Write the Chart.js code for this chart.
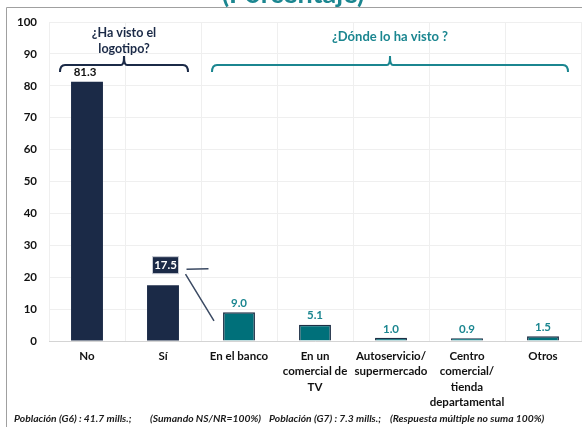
<!DOCTYPE html>
<html>
<head>
<meta charset="utf-8">
<script src="https://cdn.jsdelivr.net/npm/chart.js@4.4.1/dist/chart.umd.min.js"></script>
<style>
  html, body { margin: 0; padding: 0; background: #ffffff; }
  #wrap { position: relative; width: 582px; height: 427px; }
</style>
</head>
<body>
<div id="wrap"><canvas id="grafica" width="582" height="427"></canvas></div>
<script>
// datos de la gráfica
var categorias = [
    ['No'],
    ['Sí'],
    ['En el banco'],
    ['En un', 'comercial de', 'TV'],
    ['Autoservicio/', 'supermercado'],
    ['Centro', 'comercial/', 'tienda', 'departamental'],
    ['Otros']
];
var valores = [81.3, 17.5, 9.0, 5.1, 1.0, 0.9, 1.5];
var grupos = ['visto', 'visto', 'donde', 'donde', 'donde', 'donde', 'donde'];
var ticksY = [0, 10, 20, 30, 40, 50, 60, 70, 80, 90, 100];
var titulo = '(Porcentaje)';
var tituloGrupo1 = ['¿Ha visto el', 'logotipo?'];
var tituloGrupo2 = '¿Dónde lo ha visto ?';
var notas = [
    'Población (G6) : 41.7 mills.;',
    '(Sumando NS/NR=100%)',
    'Población (G7) : 7.3 mills.;',
    '(Respuesta múltiple no suma 100%)'
];

var AZUL = '#1b2a47';
var VERDE = '#00707a';
var VERDE_TEXTO = '#1b8690';
var FUENTE = 'Lato, "Open Sans", sans-serif';

// llave (corchete) sobre un grupo de barras
function dibujarLlave(ctx, x1, x2, xm, y, alto, color) {
    ctx.save();
    ctx.strokeStyle = color;
    ctx.lineWidth = 2;
    ctx.beginPath();
    ctx.moveTo(x1, y + alto);
    ctx.quadraticCurveTo(x1, y, x1 + 5, y);
    ctx.lineTo(xm - 3, y);
    ctx.quadraticCurveTo(xm, y, xm, y - 9);
    ctx.quadraticCurveTo(xm, y, xm + 3, y);
    ctx.lineTo(x2 - 5, y);
    ctx.quadraticCurveTo(x2, y, x2, y + alto);
    ctx.stroke();
    ctx.restore();
}

var pluginAnotaciones = {
    id: 'anotaciones',
    beforeDraw: function(chart) {
        var ctx = chart.ctx;
        ctx.save();
        // marco
        ctx.strokeStyle = '#a0a0a0';
        ctx.lineWidth = 1;
        ctx.beginPath();
        ctx.moveTo(6.5, 427);
        ctx.lineTo(6.5, 7.5);
        ctx.lineTo(582, 7.5);
        ctx.stroke();
        // título cortado arriba
        ctx.fillStyle = VERDE_TEXTO;
        ctx.font = 'bold 27px ' + FUENTE;
        ctx.textAlign = 'center';
        ctx.textBaseline = 'alphabetic';
        ctx.fillText(titulo, 293, 3);
        ctx.restore();
    },
    afterDatasetsDraw: function(chart) {
        var ctx = chart.ctx;
        var x = chart.scales.x;
        var y = chart.scales.y;
        ctx.save();

        // etiquetas de valores
        ctx.textAlign = 'center';
        ctx.textBaseline = 'middle';
        ctx.font = 'bold 11.5px ' + FUENTE;
        valores.forEach(function(v, i) {
            var cx = x.getPixelForValue(i);
            var top = y.getPixelForValue(v);
            var txt = v.toFixed(1);
            if (i === 0) {
                ctx.fillStyle = '#111111';
                ctx.fillText(txt, cx - 2, top - 9);
            } else if (i === 1) {
                var bx = cx + 2.5, by = top - 20;
                ctx.fillStyle = AZUL;
                ctx.fillRect(bx - 13, by - 8.5, 26, 17);
                ctx.strokeStyle = '#c8ccd4';
                ctx.lineWidth = 1;
                ctx.strokeRect(bx - 13, by - 8.5, 26, 17);
                ctx.fillStyle = '#ffffff';
                ctx.fillText(txt, bx, by + 0.5);
                // líneas del recuadro
                ctx.strokeStyle = '#3b4a63';
                ctx.lineWidth = 1.5;
                ctx.beginPath();
                ctx.moveTo(bx + 21, by + 4);
                ctx.lineTo(bx + 43, by + 3.5);
                ctx.moveTo(bx + 20, by + 9);
                ctx.lineTo(x.getPixelForValue(2) - 25, y.getPixelForValue(6.3));
                ctx.stroke();
            } else {
                ctx.fillStyle = VERDE_TEXTO;
                ctx.fillText(txt, cx, top - 9);
            }
        });

        // llaves y títulos de grupo
        var yLlave = y.getPixelForValue(86.5);
        var alto = 7;
        var i1 = grupos.indexOf('visto'), f1 = grupos.lastIndexOf('visto');
        var i2 = grupos.indexOf('donde'), f2 = grupos.lastIndexOf('donde');
        var a1 = x.getPixelForValue(i1) - 27, b1 = x.getPixelForValue(f1) + 25;
        var a2 = x.getPixelForValue(i2) - 27, b2 = x.getPixelForValue(f2) + 25;
        var m1 = (a1 + b1) / 2, m2 = (a2 + b2) / 2;
        dibujarLlave(ctx, a1, b1, m1, yLlave, alto, AZUL);
        dibujarLlave(ctx, a2, b2, m2, yLlave, alto, VERDE_TEXTO);

        ctx.font = 'bold 12.5px ' + FUENTE;
        ctx.fillStyle = AZUL;
        ctx.fillText(tituloGrupo1[0], m1, 33);
        ctx.fillText(tituloGrupo1[1], m1, 49);
        ctx.fillStyle = VERDE_TEXTO;
        ctx.font = 'bold 13px ' + FUENTE;
        ctx.fillText(tituloGrupo2, m2, 37);

        // notas al pie
        ctx.font = 'italic bold 10.3px ' + FUENTE;
        ctx.fillStyle = '#1a1a1a';
        ctx.textAlign = 'left';
        var xsNotas = [14, 150, 269, 390];
        notas.forEach(function(n, i) {
            ctx.fillText(n, xsNotas[i], 419);
        });
        ctx.restore();
    }
};

var ctx = document.getElementById('grafica').getContext('2d');
var grafica = new Chart(ctx, {
    type: 'bar',
    data: {
        labels: categorias,
        datasets: [{
            data: valores,
            backgroundColor: grupos.map(g => g === 'visto' ? AZUL : VERDE),
            borderColor: grupos.map(g => g === 'visto' ? AZUL : '#1d2f45'),
            borderWidth: grupos.map(g => g === 'visto' ? 0 : 1.5),
            barPercentage: 0.42,
            categoryPercentage: 1.0
        }]
    },
    options: {
        responsive: false,
        animation: false,
        layout: { padding: { top: 22, right: 1, bottom: 6, left: 0 } },
        plugins: {
            legend: { display: false },
            tooltip: { enabled: false },
            title: { display: false }
        },
        scales: {
            x: {
                grid: { color: '#efefef', drawTicks: false, offset: true },
                border: { color: '#d4d4d4' },
                ticks: {
                    color: '#111111',
                    font: { family: FUENTE, size: 11.5, weight: 'bold', lineHeight: 1.32 },
                    padding: 8,
                    maxRotation: 0,
                    autoSkip: false
                },
                afterFit: function(s) { s.height = 80; }
            },
            y: {
                min: 0,
                max: 100,
                afterBuildTicks: function(s) { s.ticks = ticksY.map(v => ({ value: v })); },
                grid: { color: '#efefef', drawTicks: false },
                border: { display: false },
                ticks: {
                    color: '#111111',
                    font: { family: FUENTE, size: 11.5, weight: 'bold' },
                    padding: 12
                },
                afterFit: function(s) { s.width = 49; }
            }
        }
    },
    plugins: [pluginAnotaciones]
});
</script>
</body>
</html>
